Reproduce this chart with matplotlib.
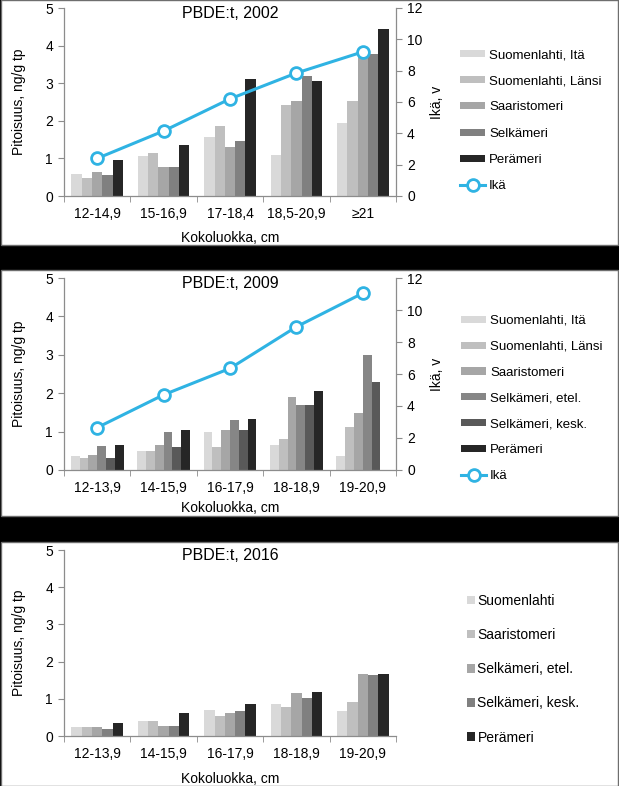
import numpy as np
import matplotlib
matplotlib.use("Agg")
import matplotlib.pyplot as plt
from matplotlib.patches import Rectangle
from matplotlib.ticker import FixedLocator, NullFormatter

plt.rcParams['font.family'] = ['Liberation Sans', 'DejaVu Sans']

# ---------------- data ----------------
cats_2002 = ["12-14,9", "15-16,9", "17-18,4", "18,5-20,9", "≥21"]
series_2002 = ["Suomenlahti, Itä", "Suomenlahti, Länsi", "Saaristomeri", "Selkämeri", "Perämeri"]
itae_2002 = [0.58, 1.06, 1.56, 1.08, 1.94]
lansi_2002 = [0.49, 1.14, 1.86, 2.42, 2.53]
saaristo_2002 = [0.63, 0.77, 1.30, 2.52, 3.78]
selka_2002 = [0.56, 0.76, 1.46, 3.20, 3.78]
pera_2002 = [0.95, 1.36, 3.12, 3.06, 4.45]
age_2002 = [2.4, 4.15, 6.2, 7.85, 9.2]

cats_2009 = ["12-13,9", "14-15,9", "16-17,9", "18-18,9", "19-20,9"]
series_2009 = ["Suomenlahti, Itä", "Suomenlahti, Länsi", "Saaristomeri",
               "Selkämeri, etel.", "Selkämeri, kesk.", "Perämeri"]
itae_2009 = [0.37, 0.50, 1.00, 0.66, 0.37]
lansi_2009 = [0.32, 0.50, 0.61, 0.81, 1.12]
saaristo_2009 = [0.40, 0.66, 1.03, 1.91, 1.49]
selka_etel_2009 = [0.63, 1.00, 1.31, 1.69, 3.00]
selka_kesk_2009 = [0.31, 0.60, 1.04, 1.69, 2.30]
pera_2009 = [0.66, 1.05, 1.34, 2.07, np.nan]
age_2009 = [2.65, 4.7, 6.35, 8.95, 11.05]

cats_2016 = ["12-13,9", "14-15,9", "16-17,9", "18-18,9", "19-20,9"]
series_2016 = ["Suomenlahti", "Saaristomeri", "Selkämeri, etel.", "Selkämeri, kesk.", "Perämeri"]
suomenlahti_2016 = [0.25, 0.39, 0.71, 0.87, 0.66]
saaristo_2016 = [0.25, 0.41, 0.53, 0.77, 0.92]
selka_etel_2016 = [0.23, 0.26, 0.62, 1.15, 1.68]
selka_kesk_2016 = [0.20, 0.26, 0.68, 1.03, 1.64]
pera_2016 = [0.36, 0.61, 0.85, 1.19, 1.68]

titles = ["PBDE:t, 2002", "PBDE:t, 2009", "PBDE:t, 2016"]
age_label = "Ikä"

# ---------------- styling ----------------
W, H = 619, 786
fig = plt.figure(figsize=(W / 100, H / 100), dpi=100, facecolor='black')

SPINE = '#8c8c8c'
LINEC = '#2fb3e3'
FS = 10

def fx(px):
    return px / W

def fy(py):
    return 1 - py / H

# panel backgrounds (white boxes on black)
for top, bot in [(0, 245), (270, 516), (542, 786)]:
    fig.patches.append(Rectangle((fx(1), fy(bot)), fx(617), (bot - top) / H,
                                 transform=fig.transFigure, facecolor='white',
                                 edgecolor='#6e6e6e', linewidth=1.0, zorder=-5))

def make_axes(top, bot):
    ax = fig.add_axes([fx(64), fy(bot), fx(396 - 64), (bot - top) / H])
    ax.set_facecolor('none')
    for s in ['top', 'right']:
        ax.spines[s].set_visible(False)
    for s in ['left', 'bottom']:
        ax.spines[s].set_color(SPINE)
        ax.spines[s].set_linewidth(0.9)
    ax.set_ylim(0, 5)
    ax.set_yticks([0, 1, 2, 3, 4, 5])
    ax.set_xlim(-0.5, 4.5)
    ax.tick_params(axis='y', direction='out', length=4, color=SPINE, labelsize=FS, pad=4)
    ax.xaxis.set_minor_locator(FixedLocator(np.arange(-0.5, 5, 1.0)))
    ax.xaxis.set_minor_formatter(NullFormatter())
    ax.tick_params(axis='x', which='minor', direction='out', length=4, color=SPINE)
    ax.tick_params(axis='x', which='major', length=0, labelsize=FS, pad=8)
    return ax

def draw_bars(ax, cats, values, labels, colors, width):
    x = np.arange(len(cats))
    n = len(values)
    handles = []
    for i, (vals, lab, col) in enumerate(zip(values, labels, colors)):
        off = (i - (n - 1) / 2) * width
        b = ax.bar(x + off, vals, width=width, color=col, label=lab, linewidth=0)
        handles.append(b)
    ax.set_xticks(x)
    ax.set_xticklabels(cats)
    return handles

def add_age(ax, ages):
    ax2 = ax.twinx()
    ax2.set_ylim(0, 12)
    ax2.set_yticks(np.arange(0, 13, 2))
    for s in ['top', 'left', 'bottom']:
        ax2.spines[s].set_visible(False)
    ax2.spines['right'].set_color(SPINE)
    ax2.spines['right'].set_linewidth(0.9)
    ax2.tick_params(axis='y', direction='out', length=4, color=SPINE, labelsize=FS, pad=4)
    ln, = ax2.plot(np.arange(len(ages)), ages, color=LINEC, linewidth=2.2,
                   marker='o', markersize=8.5, markerfacecolor='white',
                   markeredgecolor=LINEC, markeredgewidth=2.0, label=age_label, zorder=5)
    ax2.set_ylabel("Ikä, v", fontsize=FS, labelpad=5)
    return ax2, ln

# ---------------- panel 1 ----------------
ax1 = make_axes(8, 196)
cols1 = ['#d9d9d9', '#bfbfbf', '#a6a6a6', '#808080', '#262626']
h1 = draw_bars(ax1, cats_2002, [itae_2002, lansi_2002, saaristo_2002, selka_2002, pera_2002],
               series_2002, cols1, 0.155)
ax1b, ln1 = add_age(ax1, age_2002)
ax1.set_ylabel("Pitoisuus, ng/g tp", fontsize=FS, labelpad=14)
ax1.set_xlabel("Kokoluokka, cm", fontsize=FS, labelpad=7)
ax1.text(0.5, 0.972, titles[0], transform=ax1.transAxes, ha='center', va='center', fontsize=11.5)
fig.legend(h1 + [ln1], series_2002 + [age_label], loc='upper left',
           bbox_to_anchor=(fx(460), fy(49)), frameon=False, fontsize=9.5,
           borderpad=0, handlelength=1.9, handleheight=0.45, handletextpad=0.3,
           labelspacing=1.08, borderaxespad=0)

# ---------------- panel 2 ----------------
ax2 = make_axes(278, 470)
cols2 = ['#d9d9d9', '#bfbfbf', '#a6a6a6', '#868686', '#595959', '#262626']
h2 = draw_bars(ax2, cats_2009, [itae_2009, lansi_2009, saaristo_2009, selka_etel_2009,
                                selka_kesk_2009, pera_2009], series_2009, cols2, 0.133)
ax2b, ln2 = add_age(ax2, age_2009)
ax2.set_ylabel("Pitoisuus, ng/g tp", fontsize=FS, labelpad=14)
ax2.set_xlabel("Kokoluokka, cm", fontsize=FS, labelpad=4)
ax2.text(0.5, 0.972, titles[1], transform=ax2.transAxes, ha='center', va='center', fontsize=11.5)
fig.legend(h2 + [ln2], series_2009 + [age_label], loc='upper left',
           bbox_to_anchor=(fx(461), fy(315)), frameon=False, fontsize=9.5,
           borderpad=0, handlelength=1.9, handleheight=0.45, handletextpad=0.3,
           labelspacing=1.05, borderaxespad=0)

# ---------------- panel 3 ----------------
ax3 = make_axes(550, 736)
cols3 = ['#d9d9d9', '#bfbfbf', '#a6a6a6', '#808080', '#262626']
h3 = draw_bars(ax3, cats_2016, [suomenlahti_2016, saaristo_2016, selka_etel_2016,
                                selka_kesk_2016, pera_2016], series_2016, cols3, 0.155)
ax3.set_ylabel("Pitoisuus, ng/g tp", fontsize=FS, labelpad=14)
ax3.set_xlabel("Kokoluokka, cm", fontsize=FS, labelpad=8)
ax3.text(0.5, 0.972, titles[2], transform=ax3.transAxes, ha='center', va='center', fontsize=11.5)
fig.legend(h3, series_2016, loc='upper left',
           bbox_to_anchor=(fx(467), fy(594)), frameon=False, fontsize=10,
           borderpad=0, handlelength=0.55, handleheight=0.55, handletextpad=0.2,
           labelspacing=1.45, borderaxespad=0)

fig.savefig("out.png", dpi=100, facecolor='black')
